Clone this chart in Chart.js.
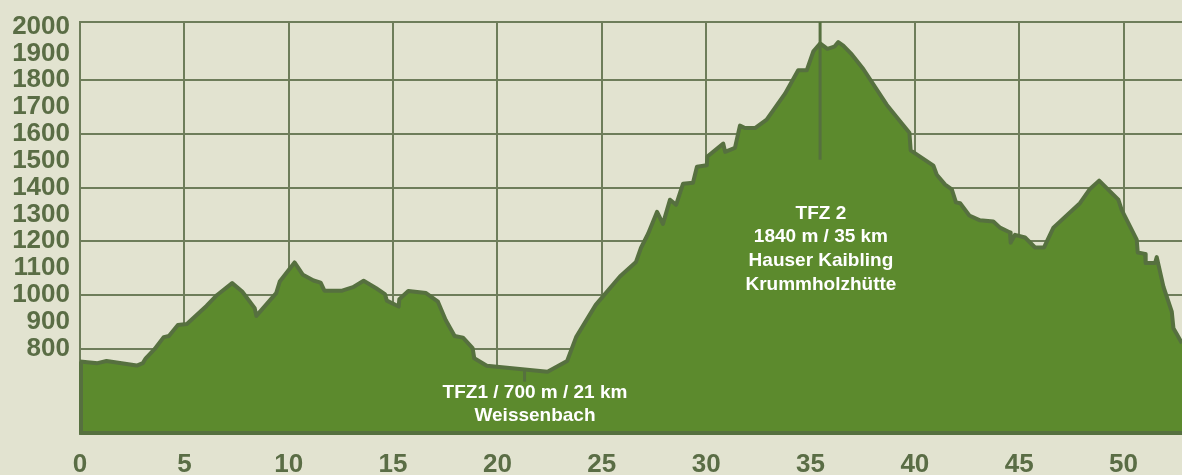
<!DOCTYPE html>
<html>
<head>
<meta charset="utf-8">
<script src="https://cdn.jsdelivr.net/npm/chart.js@4.4.1/dist/chart.umd.min.js"></script>
<style>
  html, body { margin: 0; padding: 0; background: #e2e3d0; }
  canvas { display: block; }
</style>
</head>
<body>
<canvas id="profileChart" width="1182" height="475"></canvas>
<script>
// Elevation profile: distance (km) and altitude (m)
const distKm = [
    0, 0.84, 1.27, 2.72, 3.01, 3.15, 3.57, 4.01, 4.26, 4.69, 5.12, 6.06, 6.57, 7.29, 7.77, 8.37, 8.45,
    9.40, 9.57, 10.28, 10.68, 11.19, 11.53, 11.71, 12.56, 13.08, 13.59, 14.19, 14.61, 14.70, 15.27, 15.30,
    15.73, 16.58, 17.15, 17.52, 17.95, 18.35, 18.81, 18.89, 19.49, 22.40, 23.34, 23.77, 24.71, 25.87,
    26.64, 26.88, 27.22, 27.65, 27.93, 28.27, 28.56, 28.89, 29.37, 29.56, 30.03, 30.06, 30.82, 30.91,
    31.38, 31.62, 31.86, 32.34, 32.90, 33.78, 34.41, 34.82, 35.14, 35.46, 35.81, 36.14, 36.33, 36.57,
    36.98, 37.53, 38.65, 39.29, 39.74, 39.80, 40.89, 41.05, 41.45, 41.77, 41.97, 42.17, 42.61, 43.12,
    43.76, 44.08, 44.56, 44.59, 44.80, 45.28, 45.76, 46.19, 46.64, 47.91, 48.39, 48.83, 49.35, 49.75,
    49.91, 50.63, 50.68, 51.03, 51.06, 51.51, 51.59, 51.91, 52.31, 52.39, 52.80
];
const elevation = [
    752, 746, 754, 737, 746, 764, 798, 843, 847, 888, 892, 959, 1000, 1044, 1013, 951, 922,
    1007, 1050, 1121, 1075, 1054, 1046, 1016, 1016, 1029, 1053, 1025, 1003, 979, 957, 984,
    1015, 1007, 975, 907, 847, 841, 802, 764, 736, 714, 754, 843, 963, 1069,
    1123, 1176, 1228, 1310, 1265, 1355, 1336, 1414, 1418, 1478, 1483, 1516, 1564, 1533,
    1548, 1631, 1622, 1622, 1653, 1750, 1837, 1837, 1908, 1937, 1917, 1925, 1942, 1929,
    1896, 1842, 1709, 1647, 1604, 1539, 1482, 1448, 1411, 1393, 1345, 1342, 1296, 1278,
    1274, 1251, 1233, 1195, 1224, 1214, 1177, 1177, 1251, 1342, 1395, 1426, 1386, 1355,
    1317, 1206, 1158, 1153, 1119, 1119, 1141, 1031, 938, 876, 820
];

// Axis ticks
const xTicks = [0, 5, 10, 15, 20, 25, 30, 35, 40, 45, 50];
const xGridSkip = [35]; // the TFZ 2 marker line takes the place of this grid line
const yTicks = [800, 900, 1000, 1100, 1200, 1300, 1400, 1500, 1600, 1700, 1800, 1900, 2000];
const yGridValues = [800, 1000, 1200, 1400, 1600, 1800];
const X_MIN = 0, X_MAX = 52.8;
const Y_MIN = 482, Y_MAX = 2017;

// Refreshment stations (TFZ)
const tfz1Marker = { km: 21.3, from: 718, to: 677 };
const tfz2Marker = { km: 35.46, from: Y_MAX, to: 1504 };
const tfz1Label = { km: 21.8, elev: 617, lines: ['TFZ1 / 700 m / 21 km', 'Weissenbach'] };
const tfz2Label = { km: 35.5, elev: 1284, lines: ['TFZ 2', '1840 m / 35 km', 'Hauser Kaibling', 'Krummholzhütte'] };

const labelColor = '#5a6d45';
const gridColor = '#6e7d5a';
const areaColor = '#5c8a2d';
const edgeColor = '#56703f';
const fontFamily = '"Liberation Sans", Arial, sans-serif';

// draws the closing edges of the area, the markers and the station texts
const profileExtras = {
    id: 'profileExtras',
    afterDatasetsDraw(chart) {
        const ctx = chart.ctx;
        const xs = chart.scales.x;
        const ys = chart.scales.y;
        const area = chart.chartArea;

        ctx.save();
        ctx.strokeStyle = edgeColor;
        ctx.lineJoin = 'round';

        // left and bottom edge of the profile
        ctx.lineWidth = 4;
        ctx.beginPath();
        ctx.moveTo(xs.getPixelForValue(distKm[0]) + 1, ys.getPixelForValue(elevation[0]));
        ctx.lineTo(xs.getPixelForValue(distKm[0]) + 1, area.bottom - 1);
        ctx.lineTo(area.right, area.bottom - 1);
        ctx.stroke();

        // station markers
        ctx.lineWidth = 3;
        [tfz1Marker, tfz2Marker].forEach(function (m) {
            const x = xs.getPixelForValue(m.km);
            ctx.beginPath();
            ctx.moveTo(x, ys.getPixelForValue(m.from));
            ctx.lineTo(x, ys.getPixelForValue(m.to));
            ctx.stroke();
        });

        // station texts
        ctx.fillStyle = '#ffffff';
        ctx.font = 'bold 19px ' + fontFamily;
        ctx.textAlign = 'center';
        ctx.textBaseline = 'alphabetic';
        [tfz1Label, tfz2Label].forEach(function (l) {
            const x = xs.getPixelForValue(l.km);
            const y0 = ys.getPixelForValue(l.elev);
            l.lines.forEach(function (line, i) {
                ctx.fillText(line, x, y0 + i * 23.6);
            });
        });
        ctx.restore();
    }
};

document.addEventListener('DOMContentLoaded', function () {
    const ctx = document.getElementById('profileChart').getContext('2d');
    window.profileChart = new Chart(ctx, {
        type: 'line',
        data: {
            datasets: [{
                data: distKm.map(function (km, i) { return { x: km, y: elevation[i] }; }),
                borderColor: edgeColor,
                borderWidth: 4,
                backgroundColor: areaColor,
                fill: 'start',
                pointRadius: 0,
                tension: 0,
                borderJoinStyle: 'round'
            }]
        },
        options: {
            responsive: false,
            animation: false,
            devicePixelRatio: 1,
            layout: { padding: { top: 22, right: 0, left: 0, bottom: 0 } },
            plugins: {
                legend: { display: false },
                tooltip: { enabled: false },
                title: { display: false }
            },
            scales: {
                x: {
                    type: 'linear',
                    min: X_MIN,
                    max: X_MAX,
                    afterBuildTicks: function (scale) {
                        scale.ticks = xTicks.map(function (v) { return { value: v }; });
                    },
                    afterFit: function (scale) {
                        scale.height = 41;
                        scale.paddingLeft = 0;
                        scale.paddingRight = 0;
                    },
                    ticks: {
                        color: labelColor,
                        padding: 15,
                        maxRotation: 0,
                        autoSkip: false,
                        font: { family: fontFamily, size: 26, weight: 'bold' }
                    },
                    grid: {
                        drawTicks: false,
                        lineWidth: 2,
                        color: function (c) {
                            const v = c.tick ? c.tick.value : null;
                            return xGridSkip.indexOf(v) >= 0 ? 'rgba(0,0,0,0)' : gridColor;
                        }
                    },
                    border: { display: false }
                },
                y: {
                    type: 'linear',
                    min: Y_MIN,
                    max: Y_MAX,
                    afterBuildTicks: function (scale) {
                        scale.ticks = yTicks.map(function (v) { return { value: v }; }).concat([{ value: Y_MAX }]);
                    },
                    afterFit: function (scale) {
                        scale.width = 80;
                        scale.paddingTop = 0;
                        scale.paddingBottom = 0;
                    },
                    ticks: {
                        color: labelColor,
                        padding: 10,
                        autoSkip: false,
                        font: { family: fontFamily, size: 26, weight: 'bold' },
                        callback: function (value) {
                            return value === Y_MAX ? '' : value;
                        }
                    },
                    grid: {
                        drawTicks: false,
                        lineWidth: 2,
                        color: function (c) {
                            const v = c.tick ? c.tick.value : null;
                            return (yGridValues.indexOf(v) >= 0 || v === Y_MAX) ? gridColor : 'rgba(0,0,0,0)';
                        }
                    },
                    border: { display: true, color: gridColor, width: 2 }
                }
            }
        },
        plugins: [profileExtras]
    });
});
</script>
</body>
</html>
